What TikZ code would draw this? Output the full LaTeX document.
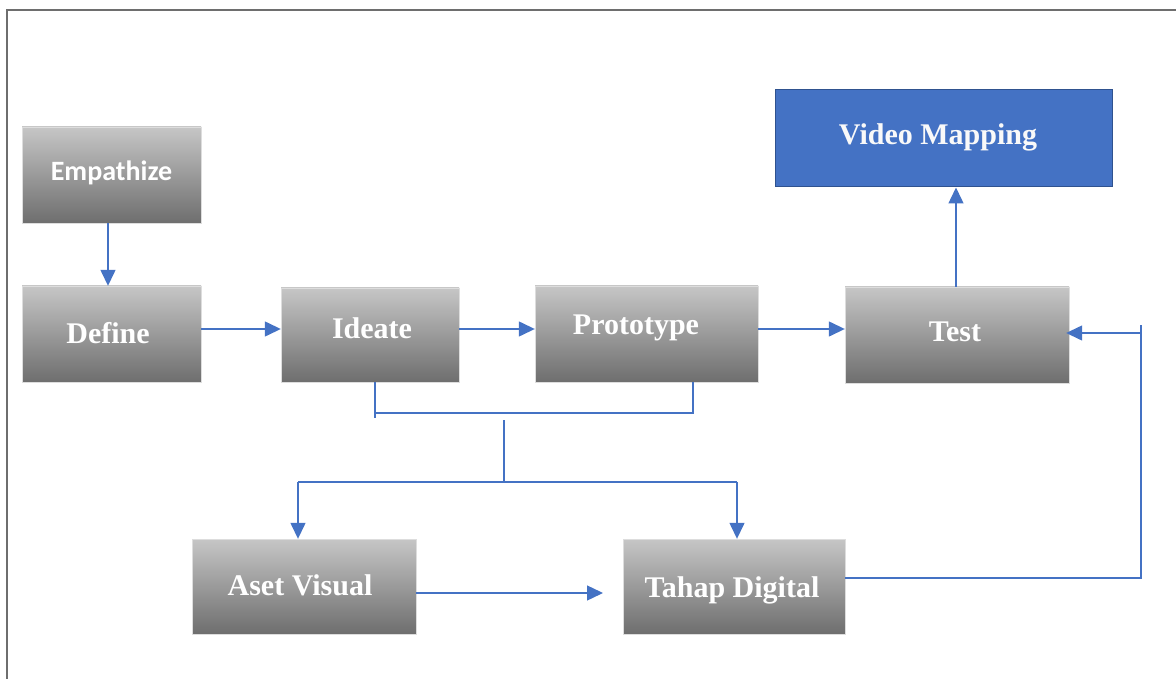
\documentclass[tikz,border=0pt]{standalone}
\usepackage{fontspec}
\setmainfont{Liberation Serif}
\newfontfamily\calib{Carlito}
\usetikzlibrary{arrows.meta}
\definecolor{gtop}{RGB}{198,198,198}
\definecolor{gbot}{RGB}{110,110,110}
\definecolor{lnblue}{RGB}{68,114,196}
\definecolor{vmblue}{RGB}{68,114,196}
\definecolor{vmedge}{RGB}{47,82,143}
\definecolor{framec}{RGB}{110,110,110}
\tikzset{
  graybox/.style={rectangle, inner sep=0pt, top color=gtop, bottom color=gbot,
    draw=gtop!60!white, line width=0.4pt,
    text=white, font=\fontsize{30}{32}\selectfont\bfseries},
  bluebox/.style={rectangle, inner sep=0pt, fill=vmblue, draw=vmedge, line width=1pt,
    text=white!95!gray, font=\fontsize{30}{32}\selectfont\bfseries},
  conn/.style={draw=lnblue, line width=1.4pt},
  arr/.style={conn, -{Triangle[length=16pt,width=15pt]}},
}
\begin{document}
\begin{tikzpicture}[x=1pt,y=-1pt]
\useasboundingbox (0,0) rectangle (1176,679);
% frame
\draw[framec, line width=1.5pt] (7,679) -- (7,10) -- (1176,10);
% boxes
\node[graybox, minimum width=179pt, minimum height=96pt] (emp) at (111.5,175) {};
\node[text=white, font=\calib\fontsize{28}{30}\selectfont\bfseries] (empt) at (111.5,173) {Empathize};
\node[graybox, minimum width=179pt, minimum height=96pt] (def) at (111.5,334) {};
\node[text=white, font=\fontsize{30}{32}\selectfont\bfseries] (deft) at (108,333) {Define};
\node[graybox, minimum width=178pt, minimum height=94pt] (ide) at (370,335) {};
\node[text=white, font=\fontsize{30}{32}\selectfont\bfseries] (idet) at (372,328) {Ideate};
\node[graybox, minimum width=223pt, minimum height=96pt] (pro) at (646.5,334) {};
\node[text=white, font=\fontsize{30}{32}\selectfont\bfseries] (prot) at (636,328) {Prototype};
\node[graybox, minimum width=224pt, minimum height=96pt] (tes) at (957,335) {};
\node[text=white, font=\fontsize{30}{32}\selectfont\bfseries] (test) at (955,332) {Test};
\node[bluebox, minimum width=337pt, minimum height=97pt] (vm) at (943.5,138.5) {};
\node[text=white!95!gray, font=\fontsize{30}{32}\selectfont\bfseries] (vmt) at (938,137) {Video Mapping};
\node[graybox, minimum width=224pt, minimum height=95pt] (av) at (304,586.5) {};
\node[text=white, font=\fontsize{30}{32}\selectfont\bfseries] (avt) at (300,585) {Aset Visual};
\node[graybox, minimum width=222pt, minimum height=95pt] (td) at (734,586.5) {};
\node[text=white, font=\fontsize{30}{32}\selectfont\bfseries] (tdt) at (732,590) {Tahap Digital};
% junction coordinates
\coordinate (j1) at (375,413);
\coordinate (j1e) at (375,418);
\coordinate (j2) at (693,413);
\coordinate (j3) at (504,420);
\coordinate (j4) at (504,482);
\coordinate (j5) at (298,482);
\coordinate (j6) at (737,482);
\coordinate (avend) at (603,593);
\coordinate (r1) at (1141,578);
\coordinate (r2) at (1141,333);
% connectors
\draw[arr] (emp.south -| 108,0) -- (def.north -| 108,0);
\draw[arr] (def.east |- 0,329) -- (ide.west |- 0,329);
\draw[arr] (ide.east |- 0,329) -- (pro.west |- 0,329);
\draw[arr] (pro.east |- 0,329) -- (tes.west |- 0,329);
\draw[arr] (tes.north -| 956,0) -- (vm.south -| 956,0);
\draw[conn] (ide.south -| j1) -- (j1e);
\draw[conn] (j1) -- (j2) -- (pro.south -| j2);
\draw[conn] (j3) -- (j4);
\draw[conn] (j5) -- (j6);
\draw[arr] (j5) -- (av.north -| j5);
\draw[arr] (j6) -- (td.north -| j6);
\draw[arr] (av.east |- avend) -- (avend);
\draw[conn] (td.east |- r1) -- (r1) -- (1141,325);
\draw[arr] (r2) -- ([xshift=-3pt]tes.east |- r2);
\end{tikzpicture}
\end{document}
